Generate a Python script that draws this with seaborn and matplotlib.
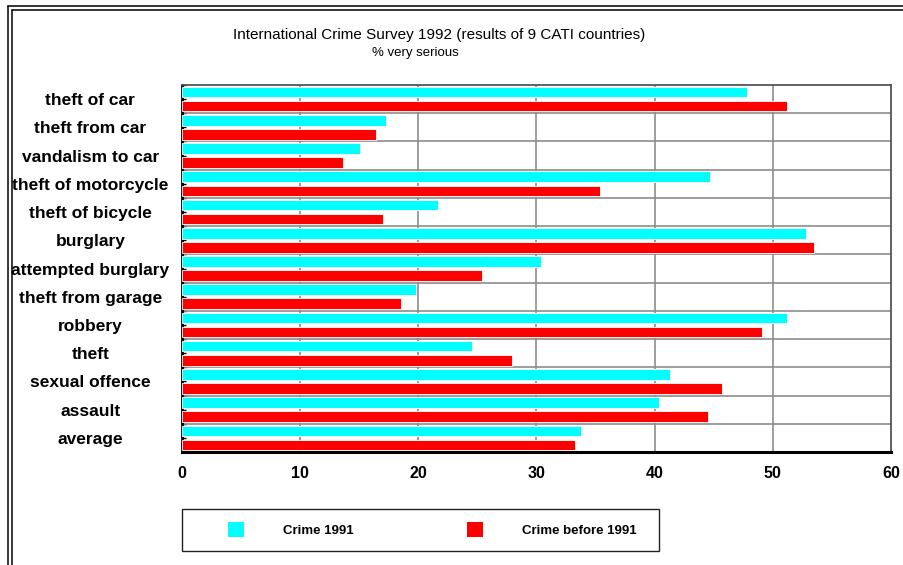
import pandas as pd
import seaborn as sns
import matplotlib.pyplot as plt
from matplotlib.patches import Patch, Rectangle
from matplotlib.lines import Line2D
from matplotlib.ticker import FixedLocator

categories = [
    "theft of car", "theft from car", "vandalism to car", "theft of motorcycle",
    "theft of bicycle", "burglary", "attempted burglary", "theft from garage",
    "robbery", "theft", "sexual offence", "assault", "average",
]
crime_1991 = [47.8, 17.3, 15.1, 44.7, 21.7, 52.8, 30.4, 19.8, 51.2, 24.5, 41.3, 40.4, 33.8]
crime_before_1991 = [51.2, 16.4, 13.6, 35.4, 17.0, 53.5, 25.4, 18.5, 49.1, 27.9, 45.7, 44.5, 33.3]
series_names = ["Crime 1991", "Crime before 1991"]
series_colors = ["#00FFFF", "#FF0000"]
x_ticks = [0, 10, 20, 30, 40, 50, 60]

df = pd.DataFrame({
    "category": categories * 2,
    "value": crime_1991 + crime_before_1991,
    "series": [series_names[0]] * len(categories) + [series_names[1]] * len(categories),
})

sns.set_theme(style="white")
plt.rcParams["font.family"] = ["Liberation Sans", "DejaVu Sans"]
plt.rcParams["text.color"] = "black"
plt.rcParams["xtick.color"] = "black"
plt.rcParams["ytick.color"] = "black"

fig = plt.figure(figsize=(9.04, 5.65), dpi=100)
ax = fig.add_axes([182 / 904, 1 - 452 / 565, 709 / 904, 367 / 565])

sns.barplot(
    data=df, x="value", y="category", hue="series",
    order=categories, hue_order=series_names, palette=series_colors,
    orient="h", width=1.0, gap=0.25, saturation=1,
    edgecolor="white", linewidth=0.6, legend=False, ax=ax, zorder=3,
)

ax.set_xlim(0, 60)
ax.set_ylim(len(categories) - 0.5, -0.5)
ax.set_xticks(x_ticks)
ax.set_xticklabels([str(t) for t in x_ticks], fontsize=11.5, fontweight="bold", color="black")
ax.set_xlabel("")
ax.set_ylabel("")

# category labels centred in the left margin
ax.set_yticks(range(len(categories)))
ax.set_yticklabels(categories, fontsize=12.5, fontweight="bold", ha="center", color="black")
ax.yaxis.set_minor_locator(FixedLocator([k + 0.5 for k in range(-1, len(categories))]))
ax.tick_params(axis="y", which="both", direction="in", length=3, width=1, color="black", left=True)
ax.tick_params(axis="y", which="major", pad=66)
ax.tick_params(axis="x", length=0, pad=10)

# grid: vertical at x ticks, horizontal between categories
for v in x_ticks[1:-1]:
    ax.axvline(v, color="#8c8c8c", lw=1.2, zorder=1)
for k in range(len(categories) - 1):
    ax.axhline(k + 0.5, color="#8c8c8c", lw=1.2, zorder=1)

for side in ["top", "right"]:
    ax.spines[side].set_color("#555555")
    ax.spines[side].set_linewidth(1.3)
ax.spines["left"].set_color("black")
ax.spines["left"].set_linewidth(2)
ax.spines["bottom"].set_color("black")
ax.spines["bottom"].set_linewidth(2.2)

# title
fig.text(439 / 904, 1 - 35 / 565, "International Crime Survey 1992 (results of 9 CATI countries)",
         ha="center", va="center", fontsize=11, color="black")
fig.text(415.5 / 904, 1 - 53 / 565, "% very serious", ha="center", va="center",
         fontsize=9.5, color="black")

# legend
handles = [Patch(facecolor=c, edgecolor="none") for c in series_colors]
fs = 9.5
px = fs * 100 / 72
fig.legend(handles, series_names, loc="center left",
           bbox_to_anchor=(228 / 904, 1 - 529.5 / 565), ncol=2, frameon=False,
           borderpad=0, borderaxespad=0, prop={"size": fs, "weight": "bold"},
           labelcolor="black",
           handlelength=16 / px, handleheight=19 / px,
           handletextpad=39 / px, columnspacing=113 / px)
fig.add_artist(Rectangle((182 / 904, 1 - 551 / 565), 477 / 904, 42 / 565,
                         transform=fig.transFigure, fill=False, edgecolor="#222222", lw=1))

# outer double border
for xo, yo in [(8, 5.5), (11.5, 9.5)]:
    fig.add_artist(Line2D([xo / 904, xo / 904], [0, 1 - yo / 565],
                          transform=fig.transFigure, color="black", lw=1.1))
    fig.add_artist(Line2D([xo / 904, 1], [1 - yo / 565, 1 - yo / 565],
                          transform=fig.transFigure, color="black", lw=1.1))

fig.savefig("out.png", dpi=100)
